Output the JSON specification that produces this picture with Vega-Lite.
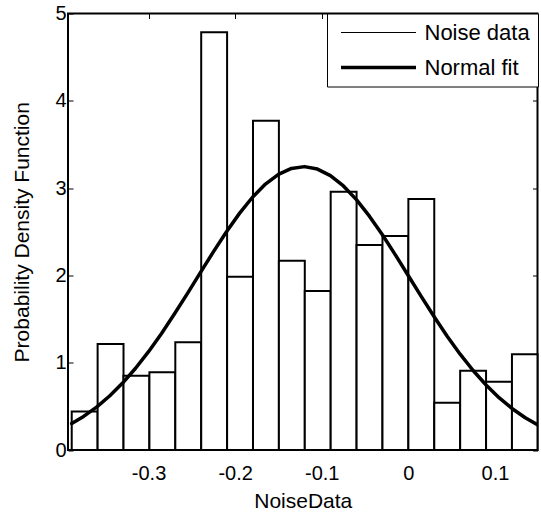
{
  "$schema": "https://vega.github.io/schema/vega-lite/v6.json",
  "width": 469.5,
  "height": 436.5,
  "autosize": {"type": "none"},
  "padding": {"left": 68, "top": 13.5, "right": 3.5, "bottom": 65},
  "background": "white",
  "config": {
    "font": "Liberation Sans",
    "view": {"stroke": "black", "strokeWidth": 2},
    "axis": {
      "domain": false,
      "grid": false,
      "tickColor": "black",
      "tickWidth": 1,
      "tickSize": -5,
      "labelFont": "Liberation Sans",
      "labelFontSize": 20,
      "labelColor": "black",
      "titleFont": "Liberation Sans",
      "titleFontSize": 21,
      "titleColor": "black",
      "titleFontWeight": "normal"
    },
    "legend": {
      "orient": "top-right",
      "offset": 0,
      "symbolType": "M-3.75,0H3.75",
      "symbolSize": 400,
      "symbolOffset": 31.5,
      "symbolStrokeColor": "black",
      "labelFont": "Liberation Sans",
      "labelFontSize": 22,
      "labelColor": "black",
      "labelOffset": 34,
      "labelLimit": 0,
      "padding": 8,
      "rowPadding": 12,
      "strokeColor": "black",
      "fillColor": "white"
    }
  },
  "layer": [
    {
      "data": {
        "values": [
          {"x0": -0.3887, "x1": -0.3588, "density": 0.44},
          {"x0": -0.3588, "x1": -0.3289, "density": 1.214},
          {"x0": -0.3289, "x1": -0.299, "density": 0.851},
          {"x0": -0.299, "x1": -0.2691, "density": 0.89},
          {"x0": -0.2691, "x1": -0.2392, "density": 1.234},
          {"x0": -0.2392, "x1": -0.2093, "density": 4.785},
          {"x0": -0.2093, "x1": -0.1794, "density": 1.985},
          {"x0": -0.1794, "x1": -0.1495, "density": 3.772},
          {"x0": -0.1495, "x1": -0.1196, "density": 2.168},
          {"x0": -0.1196, "x1": -0.0897, "density": 1.82},
          {"x0": -0.0897, "x1": -0.0598, "density": 2.959},
          {"x0": -0.0598, "x1": -0.0299, "density": 2.348},
          {"x0": -0.0299, "x1": 0.0, "density": 2.451},
          {"x0": 0.0, "x1": 0.0299, "density": 2.875},
          {"x0": 0.0299, "x1": 0.0598, "density": 0.542},
          {"x0": 0.0598, "x1": 0.0897, "density": 0.909},
          {"x0": 0.0897, "x1": 0.1196, "density": 0.783},
          {"x0": 0.1196, "x1": 0.1491, "density": 1.096}
        ]
      },
      "mark": {"type": "bar", "fill": "white", "stroke": "black", "strokeWidth": 2},
      "encoding": {
        "x": {
          "field": "x0",
          "type": "quantitative",
          "scale": {"domain": [-0.393, 0.1491], "nice": false, "zero": false},
          "axis": {
            "orient": "bottom",
            "values": [-0.3, -0.2, -0.1, 0, 0.1],
            "labelExpr": "datum.value == 0 ? '0' : replace(datum.label, '−', '-')",
            "labelPadding": 18,
            "title": "NoiseData",
            "titlePadding": 7
          }
        },
        "x2": {"field": "x1"},
        "y": {
          "field": "density",
          "type": "quantitative",
          "scale": {"domain": [0, 5], "nice": false},
          "axis": {
            "orient": "left",
            "values": [0, 1, 2, 3, 4, 5],
            "labelPadding": 7,
            "title": "Probability Density Function",
            "titlePadding": 22
          }
        },
        "y2": {"datum": 0}
      }
    },
    {
      "data": {
        "values": [
          {"x": -0.3887, "pdf": 0.3037, "series": "Normal fit"},
          {"x": -0.375, "pdf": 0.3848, "series": "Normal fit"},
          {"x": -0.36, "pdf": 0.4915, "series": "Normal fit"},
          {"x": -0.345, "pdf": 0.6184, "series": "Normal fit"},
          {"x": -0.33, "pdf": 0.7667, "series": "Normal fit"},
          {"x": -0.315, "pdf": 0.9363, "series": "Normal fit"},
          {"x": -0.3, "pdf": 1.1266, "series": "Normal fit"},
          {"x": -0.285, "pdf": 1.3354, "series": "Normal fit"},
          {"x": -0.27, "pdf": 1.5598, "series": "Normal fit"},
          {"x": -0.255, "pdf": 1.7947, "series": "Normal fit"},
          {"x": -0.24, "pdf": 2.0345, "series": "Normal fit"},
          {"x": -0.225, "pdf": 2.2722, "series": "Normal fit"},
          {"x": -0.21, "pdf": 2.5004, "series": "Normal fit"},
          {"x": -0.195, "pdf": 2.7105, "series": "Normal fit"},
          {"x": -0.18, "pdf": 2.8951, "series": "Normal fit"},
          {"x": -0.165, "pdf": 3.0463, "series": "Normal fit"},
          {"x": -0.15, "pdf": 3.1581, "series": "Normal fit"},
          {"x": -0.135, "pdf": 3.2256, "series": "Normal fit"},
          {"x": -0.12, "pdf": 3.246, "series": "Normal fit"},
          {"x": -0.105, "pdf": 3.2179, "series": "Normal fit"},
          {"x": -0.09, "pdf": 3.143, "series": "Normal fit"},
          {"x": -0.075, "pdf": 3.0246, "series": "Normal fit"},
          {"x": -0.06, "pdf": 2.8675, "series": "Normal fit"},
          {"x": -0.045, "pdf": 2.6784, "series": "Normal fit"},
          {"x": -0.03, "pdf": 2.4648, "series": "Normal fit"},
          {"x": -0.015, "pdf": 2.2348, "series": "Normal fit"},
          {"x": 0.0, "pdf": 1.9959, "series": "Normal fit"},
          {"x": 0.015, "pdf": 1.7565, "series": "Normal fit"},
          {"x": 0.03, "pdf": 1.5229, "series": "Normal fit"},
          {"x": 0.045, "pdf": 1.3008, "series": "Normal fit"},
          {"x": 0.06, "pdf": 1.0948, "series": "Normal fit"},
          {"x": 0.075, "pdf": 0.9077, "series": "Normal fit"},
          {"x": 0.09, "pdf": 0.7414, "series": "Normal fit"},
          {"x": 0.105, "pdf": 0.5967, "series": "Normal fit"},
          {"x": 0.12, "pdf": 0.473, "series": "Normal fit"},
          {"x": 0.135, "pdf": 0.3695, "series": "Normal fit"},
          {"x": 0.15, "pdf": 0.2844, "series": "Normal fit"}
        ]
      },
      "mark": {"type": "line", "stroke": "black", "clip": true, "strokeJoin": "round", "strokeCap": "round"},
      "encoding": {
        "x": {
          "field": "x",
          "type": "quantitative",
          "axis": {"orient": "top", "values": [-0.3, -0.2, -0.1, 0, 0.1], "labels": false, "title": null}
        },
        "y": {
          "field": "pdf",
          "type": "quantitative",
          "axis": {"orient": "right", "values": [0, 1, 2, 3, 4, 5], "labels": false, "title": null}
        },
        "strokeWidth": {
          "field": "series",
          "type": "ordinal",
          "scale": {"domain": ["Noise data", "Normal fit"], "range": [1, 3.5]},
          "legend": {"title": null}
        }
      }
    }
  ],
  "resolve": {"axis": {"x": "independent", "y": "independent"}}
}
